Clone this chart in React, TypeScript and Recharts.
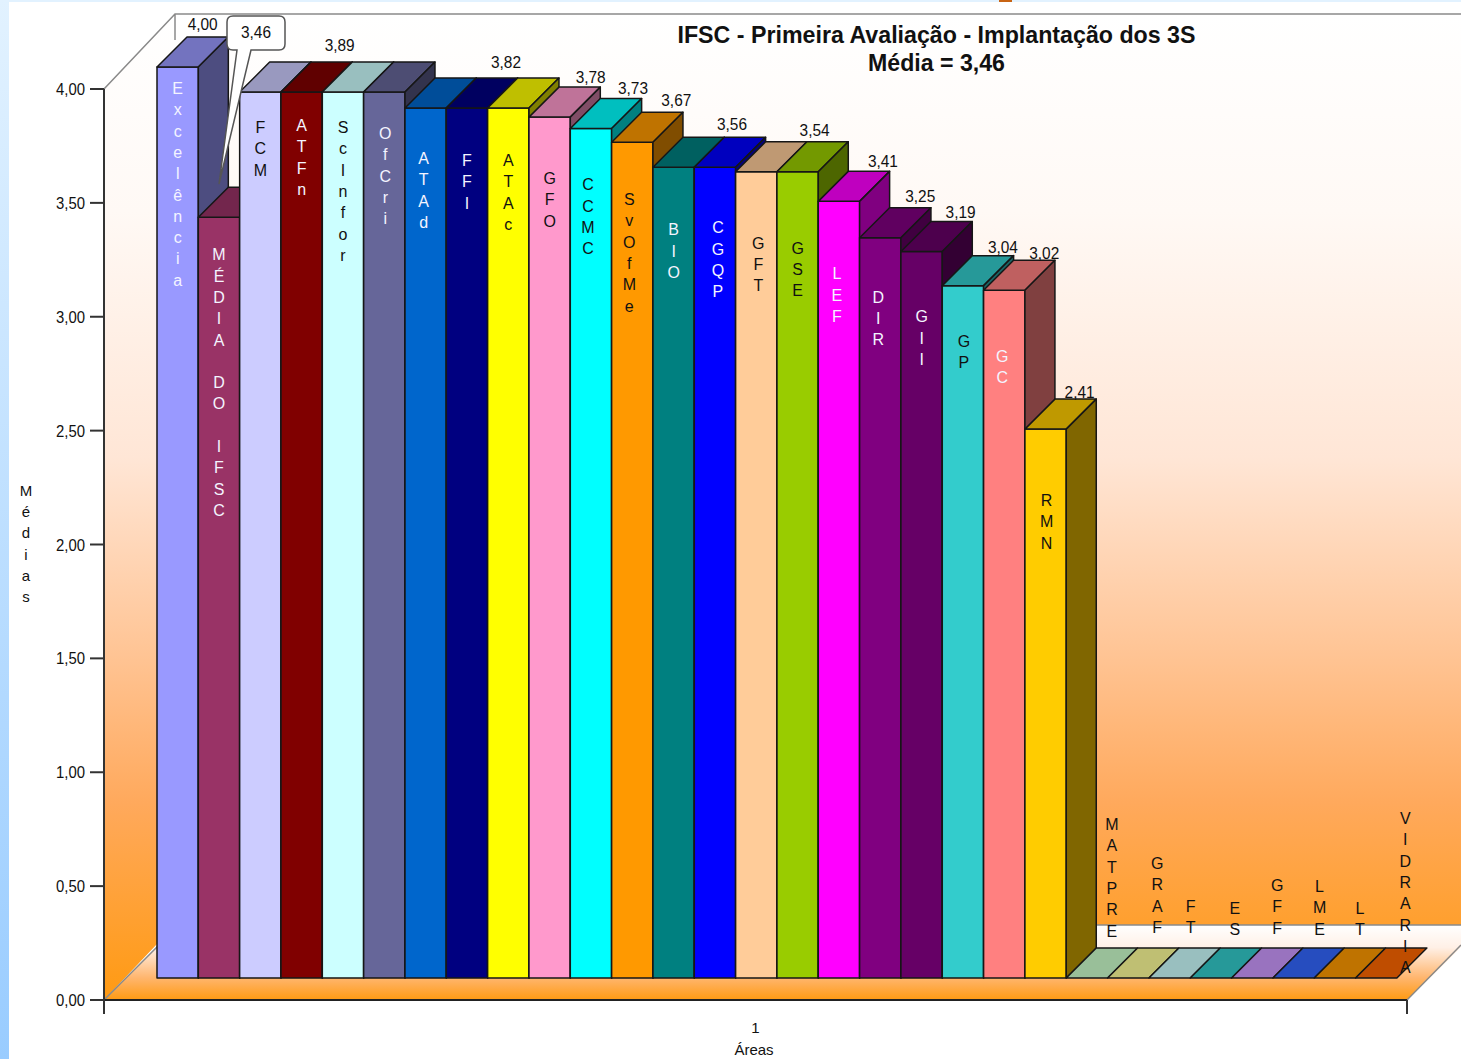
import { BarChart, Bar, XAxis, YAxis } from 'recharts';

const WIDTH = 1461;
const HEIGHT = 1059;

// what the picture shows, left to right
const areaNames = [
  'Excelência', 'MÉDIA DO IFSC', 'FCM', 'ATFn', 'ScInfor', 'OfCri', 'ATAd', 'FFI', 'ATAc', 'GFO',
  'CCMC', 'SvOfMe', 'BIO', 'CGQP', 'GFT', 'GSE', 'LEF', 'DIR', 'GII', 'GP',
  'GC', 'RMN', 'MATPRE', 'GRAF', 'FT', 'ES', 'GFF', 'LME', 'LT', 'VIDRARIA',
];
const areaValues = [
  4.0, 3.34, 3.89, 3.89, 3.89, 3.89, 3.82, 3.82, 3.82, 3.78,
  3.73, 3.67, 3.56, 3.56, 3.54, 3.54, 3.41, 3.25, 3.19, 3.04,
  3.02, 2.41, 0, 0, 0, 0, 0, 0, 0, 0,
];
// only these bars carry a number above them
const valueLabels = [
  '4,00', '', '', '3,89', '', '', '', '3,82', '', '3,78',
  '3,73', '3,67', '', '3,56', '', '3,54', '3,41', '3,25', '3,19', '3,04',
  '3,02', '2,41', '', '', '', '', '', '', '', '',
];
const yTicks = [0, 0.5, 1, 1.5, 2, 2.5, 3, 3.5, 4];
const categories = ['1'];

// colours and text placement per bar
const faceColors = [
  '#9999ff', '#993366', '#ccccff', '#800000', '#ccffff', '#666699', '#0066cc', '#000080', '#ffff00', '#ff99cc',
  '#00ffff', '#ff9900', '#008080', '#0000ff', '#ffcc99', '#99cc00', '#ff00ff', '#800080', '#660066', '#33cccc',
  '#ff8080', '#ffcc00', '#ccffcc', '#ffff99', '#ccffff', '#33cccc', '#cc99ff', '#3366ff', '#ff9900', '#ff6600',
];
const lightText = ['Excelência', 'MÉDIA DO IFSC', 'ATFn', 'OfCri', 'ATAd', 'FFI', 'BIO', 'CGQP', 'LEF', 'DIR', 'GII', 'GC'];
const nameDrop = [
  21, 37, 35, 33, 35, 41, 50, 52, 52, 61,
  56, 57, 62, 60, 71, 76, 72, 59, 65, 55,
  66, 71, -154, -115, -72, -70, -93, -92, -70, -160,
];
const nameNudge = [
  0, 0, 0, 0, 0, 1, -2, 0, 0, 0,
  -3, -3, 0, 3, 2, 0, -2, -2, 0, 1,
  -2, 1, 25, 29, 21, 24, 25, 26, 25, 29,
];
const labelNudge = [-5, 0, 0, 8, 0, 0, 0, 9, 0, 11, 12, 14, 0, -13, 0, -13, 14, 10, 9, 10, 10, 4];
const labelLift = [2, 0, 0, 6, 0, 0, 0, 5, 0, -1, -1, 1, 0, 2, 0, 1, -1, 1, -2, -2, -4, -4];

const SHIFT = 22; // bars stand a little behind the front edge of the floor
const DEPTH = 30;
const LETTER_STEP = 21.3;
const BAR_STRETCH = 0.33; // recharts truncates the bar width to whole pixels
const INK = '#161616';

const shade = (hex: string, f: number) => {
  const n = parseInt(hex.slice(1), 16);
  const c = [(n >> 16) & 255, (n >> 8) & 255, n & 255].map((v) => Math.round(v * f));
  return `rgb(${c[0]},${c[1]},${c[2]})`;
};

const chartRows = categories.map((area) => {
  const row: Record<string, string | number> = { area };
  areaNames.forEach((name, i) => {
    row[name] = areaValues[i];
  });
  return row;
});

const Box3D = (props: any) => {
  const { idx } = props;
  const x = props.x + SHIFT + idx * BAR_STRETCH;
  const y = props.y - SHIFT;
  const w = props.width + BAR_STRETCH;
  const h = props.height;
  const color = faceColors[idx];
  const name = areaNames[idx];
  const zero = areaValues[idx] === 0;
  const cx = x + w / 2 + nameNudge[idx];
  const label = valueLabels[idx];
  return (
    <g stroke={INK} strokeWidth={1.5} strokeLinejoin="round">
      {!zero && <rect x={x} y={y} width={w} height={h} fill={color} />}
      <path
        d={`M${x} ${y}L${x + DEPTH} ${y - DEPTH}L${x + w + DEPTH} ${y - DEPTH}L${x + w} ${y}Z`}
        fill={shade(color, 0.75)}
      />
      {!zero && (
        <path
          d={`M${x + w} ${y}L${x + w + DEPTH} ${y - DEPTH}L${x + w + DEPTH} ${y - DEPTH + h}L${x + w} ${y + h}Z`}
          fill={shade(color, 0.5)}
        />
      )}
      <g
        stroke="none"
        fill={lightText.includes(name) ? '#f4f4ff' : '#111'}
        fontFamily="Liberation Sans"
        fontSize={16}
        textAnchor="middle"
      >
        {name.split('').map((ch, k) => (
          <text key={k} x={cx} y={y + nameDrop[idx] + k * LETTER_STEP + 6}>
            {ch}
          </text>
        ))}
      </g>
      {label && (
        <text
          x={x + w / 2 + DEPTH + (labelNudge[idx] || 0)}
          y={y - DEPTH - 5 - (labelLift[idx] || 0)}
          stroke="none"
          fill="#111"
          fontFamily="Liberation Sans"
          fontSize={16}
          textAnchor="middle"
          textLength={30}
          lengthAdjust="spacingAndGlyphs"
        >
          {label}
        </text>
      )}
    </g>
  );
};

const ValueTick = (props: any) => (
  <text
    x={props.x}
    y={props.y + 6}
    textAnchor="end"
    fontFamily="Liberation Sans"
    fontSize={17}
    fill="#111"
    textLength={29}
    lengthAdjust="spacingAndGlyphs"
  >
    {props.payload.value.toFixed(2).replace('.', ',')}
  </text>
);

const Backdrop = () => (
  <svg width={WIDTH} height={HEIGHT} style={{ position: 'absolute', left: 0, top: 0 }}>
    <defs>
      <linearGradient id="page" x1="0" y1="0" x2="0" y2="1">
        <stop offset="0" stopColor="#e2f2ff" />
        <stop offset="1" stopColor="#99ccff" />
      </linearGradient>
      <linearGradient id="wall" x1="0" y1="0" x2="0" y2="1">
        <stop offset="0" stopColor="#ffffff" />
        <stop offset="0.2" stopColor="#fff9f5" />
        <stop offset="0.45" stopColor="#ffe6d6" />
        <stop offset="0.65" stopColor="#ffc494" />
        <stop offset="0.8" stopColor="#ffa95c" />
        <stop offset="1" stopColor="#ff9a12" />
      </linearGradient>
      <linearGradient id="floor" x1="0" y1="0" x2="0" y2="1">
        <stop offset="0" stopColor="#ffffff" />
        <stop offset="0.3" stopColor="#fff0e6" />
        <stop offset="0.7" stopColor="#ffb66f" />
        <stop offset="1" stopColor="#ff9a12" />
      </linearGradient>
    </defs>
    <rect width={WIDTH} height={HEIGHT} fill="#fff" />
    <rect width={9} height={HEIGHT} fill="url(#page)" />
    <rect width={WIDTH} height={2} fill="#e2f2ff" />
    <rect x={999} width={13} height={2} fill="#c86414" />
    <path d="M104 89L175 14L1461 14L1461 925L175 925L104 1000Z" fill="url(#wall)" />
    <path d="M104 1000L179 925L1461 925L1461 947L1407 1000Z" fill="url(#floor)" />
    <path d="M104 89L175 14L1461 14M175 14L175 40M104 1000L179 925L1461 925M1407 1000L1461 945" fill="none" stroke="#8a8a8a" strokeWidth={1.5} />
  </svg>
);

const Overlay = () => (
  <svg
    width={WIDTH}
    height={HEIGHT}
    style={{ position: 'absolute', left: 0, top: 0, pointerEvents: 'none' }}
  >
    <g fontFamily="Liberation Sans" fontWeight="bold" fontSize={23} fill="#111" textAnchor="middle">
      <text x={936.5} y={43} textLength={518} lengthAdjust="spacingAndGlyphs">
        IFSC - Primeira Avaliação - Implantação dos 3S
      </text>
      <text x={936.5} y={71} textLength={137} lengthAdjust="spacingAndGlyphs">
        Média = 3,46
      </text>
    </g>
    <g stroke="#333" strokeWidth={2}>
      <line x1={104} y1={1000} x2={104} y2={1014} />
      <line x1={1407} y1={1000} x2={1407} y2={1014} />
    </g>
    <path
      d="M233 16L279 16Q285 16 285 22L285 44Q285 50 279 50L251 50L219 184L237 50L233 50Q227 50 227 44L227 22Q227 16 233 16Z"
      fill="#fff"
      stroke="#555"
      strokeWidth={1.5}
    />
    <text x={256} y={38} fontFamily="Liberation Sans" fontSize={16} fill="#111" textAnchor="middle" textLength={30} lengthAdjust="spacingAndGlyphs">
      3,46
    </text>
    <g fontFamily="Liberation Sans" fontSize={15} fill="#111" textAnchor="middle">
      {'Médias'.split('').map((ch, k) => (
        <text key={k} x={26} y={496 + k * 21.2}>
          {ch}
        </text>
      ))}
      <text x={754} y={1055}>Áreas</text>
    </g>
  </svg>
);

export default function App() {
  return (
    <div style={{ position: 'absolute', left: 0, top: 0, width: WIDTH, height: HEIGHT }}>
      <Backdrop />
      <div style={{ position: 'absolute', left: 0, top: 0 }}>
        <BarChart
          width={WIDTH}
          height={HEIGHT}
          data={chartRows}
          margin={{ top: 89, right: 54, bottom: 0, left: 0 }}
          barCategoryGap={31}
          barGap={0}
        >
          <XAxis
            dataKey="area"
            height={59}
            tickLine={false}
            axisLine={{ stroke: '#222', strokeWidth: 2 }}
            tick={{ fontFamily: 'Liberation Sans', fontSize: 15, fill: '#111' }}
            tickMargin={16}
          />
          <YAxis
            width={104}
            domain={[0, 4]}
            ticks={yTicks}
            tickSize={14}
            tickMargin={5}
            axisLine={{ stroke: '#333', strokeWidth: 2 }}
            tickLine={{ stroke: '#333', strokeWidth: 2 }}
            tick={<ValueTick />}
          />
          {areaNames.map((name, i) => (
            <Bar
              key={name}
              dataKey={name}
              isAnimationActive={false}
              shape={(p: any) => <Box3D {...p} idx={i} />}
            />
          ))}
        </BarChart>
      </div>
      <Overlay />
    </div>
  );
}
